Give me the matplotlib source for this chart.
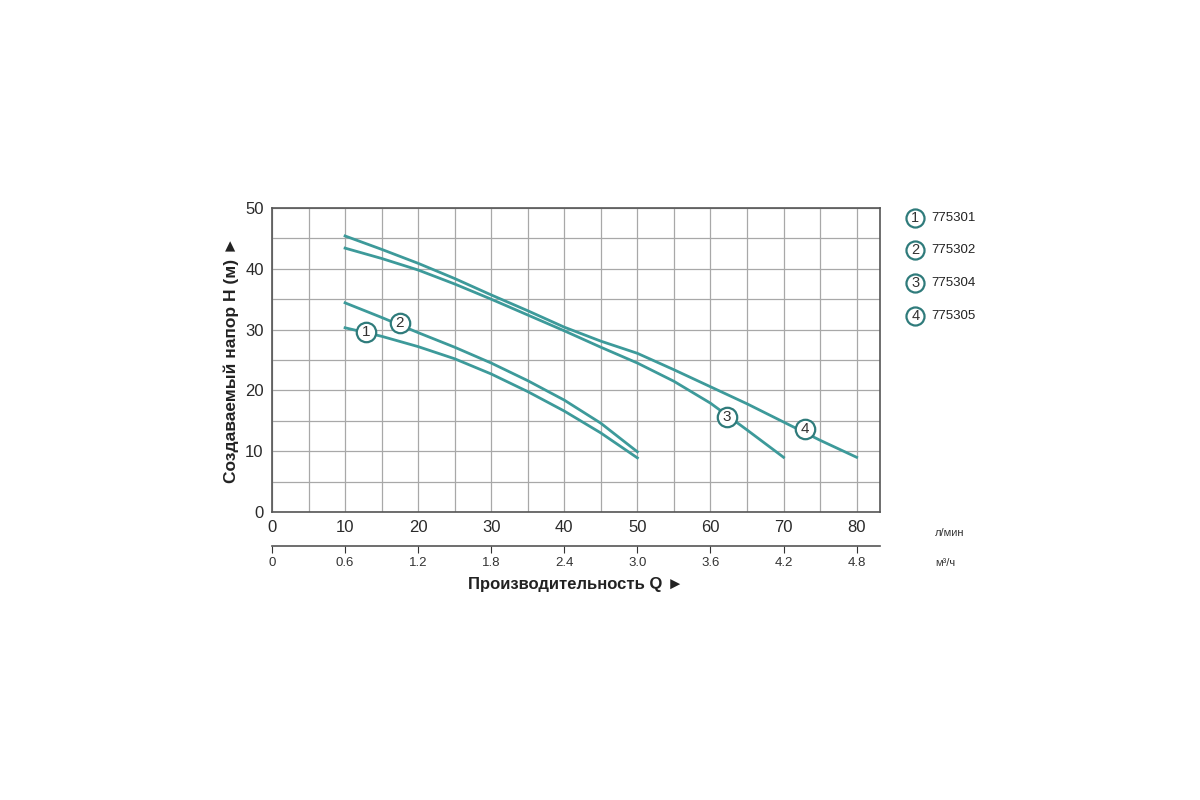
import matplotlib.pyplot as plt

plt.rcParams['font.family'] = ['Liberation Sans', 'DejaVu Sans']

# flow, l/min
q1 = [10, 15, 20, 25, 30, 35, 40, 45, 50]
h1 = [30.3, 28.9, 27.2, 25.2, 22.7, 19.8, 16.6, 13.0, 8.9]
q2 = [10, 15, 20, 25, 30, 35, 40, 45, 50]
h2 = [34.4, 32.0, 29.5, 27.1, 24.5, 21.6, 18.4, 14.6, 9.9]
q3 = [10, 15, 20, 25, 30, 35, 40, 45, 50, 55, 60, 65, 70]
h3 = [43.4, 41.7, 39.8, 37.5, 35.0, 32.4, 29.8, 27.1, 24.5, 21.5, 17.9, 13.5, 9.0]
q4 = [10, 15, 20, 25, 30, 35, 40, 45, 50, 55, 60, 65, 70, 75, 80]
h4 = [45.4, 43.2, 40.9, 38.4, 35.7, 33.1, 30.4, 28.1, 26.1, 23.4, 20.6, 17.8, 14.8, 11.8, 9.0]

models = ['775301', '775302', '775304', '775305']
label_pos = [(12.9, 29.6), (17.5, 31.1), (62.2, 15.6), (72.9, 13.7)]

x_ticks = [0, 10, 20, 30, 40, 50, 60, 70, 80]
y_ticks = [0, 10, 20, 30, 40, 50]
m3h_ticks = [0, 0.6, 1.2, 1.8, 2.4, 3.0, 3.6, 4.2, 4.8]

line_col = '#3d9a9a'
edge_col = '#2f7b7b'

fig = plt.figure(figsize=(12, 8), dpi=100)
ax = fig.add_axes([272/1200, 1-512/800, 608/1200, 304/800])

for q, h in [(q1, h1), (q2, h2), (q3, h3), (q4, h4)]:
    ax.plot(q, h, color=line_col, linewidth=2, zorder=3, solid_joinstyle='round')

def badge(x, y, n, size=14, fs=11, **kw):
    ax.plot(x, y, 'o', markersize=size, markerfacecolor='white',
            markeredgecolor=edge_col, markeredgewidth=1.6, zorder=5, clip_on=False, **kw)
    ax.text(x, y, str(n), ha='center', va='center', fontsize=fs, color='#333333',
            zorder=6, clip_on=False, **kw)

for i, (x, y) in enumerate(label_pos):
    badge(x, y, i + 1)

# legend on the right
leg_y = [0.967, 0.862, 0.753, 0.645]
for i, m in enumerate(models):
    badge(1.058, leg_y[i], i + 1, size=13, fs=10.5, transform=ax.transAxes)
    ax.text(1.085, leg_y[i], m, transform=ax.transAxes, ha='left', va='center',
            fontsize=9.5, color='#222222')

ax.set_xlim(0, 83.2)
ax.set_ylim(0, 50)
ax.set_xticks(x_ticks)
ax.set_yticks(y_ticks)
ax.set_xticks(range(0, 85, 5), minor=True)
ax.set_yticks(range(0, 55, 5), minor=True)
ax.grid(which='both', color='#a8a8a8', linewidth=0.9)
ax.set_axisbelow(True)
ax.tick_params(which='both', length=0, labelsize=12, colors='#2a2a2a')
ax.tick_params(axis='x', pad=6)
ax.tick_params(axis='y', pad=6)
for s in ax.spines.values():
    s.set_color('#555555')
    s.set_linewidth(1.2)

ax.set_ylabel('Создаваемый напор H (м) ►', fontsize=12.5, fontweight='bold',
              color='#222222', labelpad=4)

# second scale in m3/h
sec = ax.secondary_xaxis(-34/304, functions=(lambda x: x * 0.06, lambda x: x / 0.06))
sec.set_xticks(m3h_ticks)
sec.set_xticklabels(['0', '0.6', '1.2', '1.8', '2.4', '3.0', '3.6', '4.2', '4.8'])
sec.tick_params(direction='out', length=5, labelsize=9.5, colors='#333333', pad=3)
sec.spines['bottom'].set_color('#555555')
sec.spines['bottom'].set_linewidth(1.2)
sec.set_xlabel('Производительность Q ►', fontsize=12, fontweight='bold',
               color='#222222', labelpad=6)

fig.text(935/1200, 1-533/800, 'л/мин', fontsize=8, color='#333333', va='center')
fig.text(935/1200, 1-563/800, 'м³/ч', fontsize=8, color='#333333', va='center')

fig.savefig('out.png', dpi=100)
